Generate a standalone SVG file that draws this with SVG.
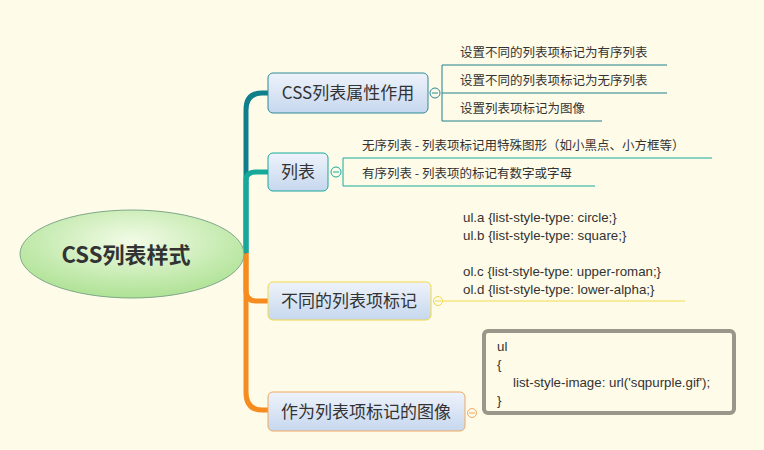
<svg xmlns="http://www.w3.org/2000/svg" width="764" height="450" viewBox="0 0 764 450">
<defs>
<linearGradient id="ng" x1="0" y1="0" x2="0" y2="1"><stop offset="0" stop-color="#eef3fb"/><stop offset="1" stop-color="#c6d7ee"/></linearGradient>
<radialGradient id="rg" cx="0.5" cy="0.35" r="0.7"><stop offset="0" stop-color="#f2fbe6"/><stop offset="1" stop-color="#a9e08e"/></radialGradient>
</defs>
<style>
text{font-family:"Microsoft YaHei","Noto Sans CJK SC","Liberation Sans",sans-serif;fill:#333}
.n{font-size:17px}
.s{font-size:12.5px}
.c{font-size:13.3px;font-family:"Liberation Sans","Noto Sans CJK SC",sans-serif}
.tog{fill:#fdfbe9;stroke-width:1}
</style>
<rect width="764" height="450" fill="#fefbe8"/>
<g id="connectors" fill="none">
<path d="M246 253 V110 Q246 93 262 93 H268" stroke="#0f7f8c" stroke-width="5"/>
<path d="M246 253 V180 Q246 172 256 172 H268" stroke="#17a89c" stroke-width="5"/>
<path d="M246 253 V290 Q246 301 256 301 H268" stroke="#f68b1f" stroke-width="5"/>
<path d="M246 253 V392 Q246 410 262 410 H268" stroke="#f68b1f" stroke-width="5"/>
<path d="M224 253 H246" stroke="#0f7f8c" stroke-width="1"/>
<path d="M442 65 V121 M442 65 H667 M442 93 H667 M442 121 H602" stroke="#1f7f8c" stroke-width="1"/>
<path d="M343 158 V186 M343 158 H712 M343 186 H595" stroke="#17a89c" stroke-width="1"/>
<path d="M442 301 H685" stroke="#f4dc4a" stroke-width="1.2"/>
</g>
<g id="root"><ellipse cx="132" cy="254" rx="112" ry="44" fill="url(#rg)" stroke="#7fa88a" stroke-width="1"/><text x="126" y="263" text-anchor="middle" style="font-size:22px;font-weight:bold">CSS列表样式</text></g>
<g id="n1"><rect x="268" y="73" width="160" height="40" rx="5" fill="url(#ng)" stroke="#2c8a99"/><text class="n" x="348" y="99" text-anchor="middle">CSS列表属性作用</text><circle class="tog" cx="435" cy="93" r="5" stroke="#2c8a99"/><path d="M432 93h6" stroke="#2c8a99"/></g>
<g id="n1a"><text class="s" x="460" y="57">设置不同的列表项标记为有序列表</text></g>
<g id="n1b"><text class="s" x="460" y="85">设置不同的列表项标记为无序列表</text></g>
<g id="n1c"><text class="s" x="460" y="113">设置列表项标记为图像</text></g>
<g id="n2"><rect x="268" y="153" width="60" height="38" rx="5" fill="url(#ng)" stroke="#17a89c"/><text class="n" x="298" y="178" text-anchor="middle">列表</text><circle class="tog" cx="336" cy="172" r="5" stroke="#17a89c"/><path d="M333 172h6" stroke="#17a89c"/></g>
<g id="n2a"><text class="s" x="362" y="150">无序列表 - 列表项标记用特殊图形（如小黑点、小方框等）</text></g>
<g id="n2b"><text class="s" x="362" y="178">有序列表 - 列表项的标记有数字或字母</text></g>
<g id="n3"><rect x="268" y="282" width="163" height="38" rx="5" fill="url(#ng)" stroke="#f1d84a"/><text class="n" x="349" y="307" text-anchor="middle">不同的列表项标记</text><circle class="tog" cx="438" cy="301" r="4.5" stroke="#f1d84a"/><path d="M435 301h6" stroke="#f1d84a"/></g>
<g id="n3a"><text class="c" x="463" y="222">ul.a {list-style-type: circle;}</text><text class="c" x="463" y="240">ul.b {list-style-type: square;}</text><text class="c" x="463" y="276">ol.c {list-style-type: upper-roman;}</text><text class="c" x="463" y="294">ol.d {list-style-type: lower-alpha;}</text></g>
<g id="n4"><rect x="268" y="392" width="197" height="39" rx="5" fill="url(#ng)" stroke="#f0a860"/><text class="n" x="366" y="418" text-anchor="middle">作为列表项标记的图像</text><circle class="tog" cx="472" cy="413" r="4.5" stroke="#f0a860"/><path d="M469 413h6" stroke="#f0a860"/></g>
<g id="n4a"><rect x="484" y="331" width="250" height="82" rx="4" fill="#fefbe8" stroke="#9a968a" stroke-width="4"/><text class="c" x="497" y="351">ul</text><text class="c" x="497" y="369">{</text><text class="c" x="513" y="387">list-style-image: url('sqpurple.gif');</text><text class="c" x="497" y="405">}</text></g>
</svg>
